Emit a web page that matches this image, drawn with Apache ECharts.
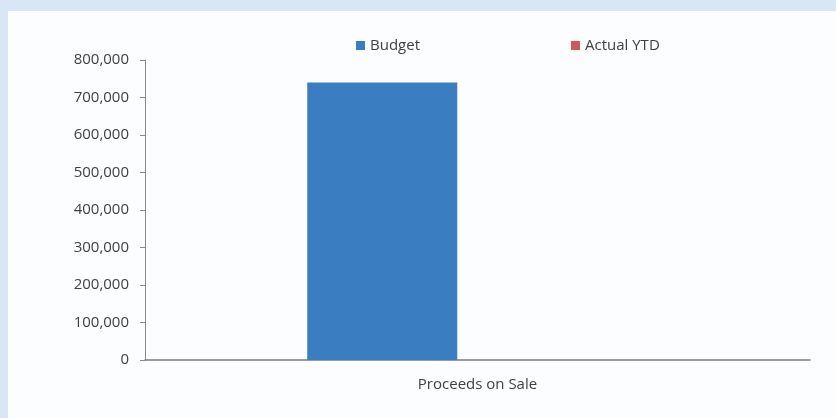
<!DOCTYPE html>
<html>
<head>
<meta charset="utf-8">
<script src="https://cdn.jsdelivr.net/npm/echarts@6/dist/echarts.min.js"></script>
<style>
html,body{margin:0;padding:0;background:#d8e6f5;}
#c{width:836px;height:418px;}
</style>
</head>
<body>
<div id="c"></div>
<script>
const categories = ['Proceeds on Sale'];
const budget = [740000];
const actualYTD = [0];
const yTicks = { min: 0, max: 800000, interval: 100000 };

const font = '"Open Sans", "Noto Sans", sans-serif';
const chart = echarts.init(document.getElementById('c'), null, {renderer: 'canvas'});
chart.setOption({
  backgroundColor: '#d8e6f5',
  animation: false,
  graphic: [{
    type: 'rect', z: -10, silent: true,
    shape: {x: 8, y: 11, width: 828, height: 407},
    style: {fill: '#fcfdff'}
  }],
  legend: [
    {data: ['Budget'], left: 351, top: 33, itemWidth: 9, itemHeight: 9, itemGap: 4,
     icon: 'rect', textStyle: {fontFamily: font, fontSize: 15, color: '#404040'}},
    {data: ['Actual YTD'], left: 566, top: 33, itemWidth: 9, itemHeight: 9, itemGap: 4,
     icon: 'rect', textStyle: {fontFamily: font, fontSize: 15, color: '#404040'}}
  ],
  grid: {left: 145, right: 26, top: 60, bottom: 58, containLabel: false},
  xAxis: {
    type: 'category', data: categories,
    axisLine: {lineStyle: {color: '#7a7a7a', width: 1.5}},
    axisTick: {show: false},
    axisLabel: {fontFamily: font, fontSize: 15, color: '#404040', margin: 17}
  },
  yAxis: {
    type: 'value', min: yTicks.min, max: yTicks.max, interval: yTicks.interval,
    axisLine: {show: true, lineStyle: {color: '#8a8a8a'}},
    axisTick: {show: true, inside: false, length: 5, lineStyle: {color: '#8a8a8a'}},
    splitLine: {show: false},
    axisLabel: {fontFamily: font, fontSize: 15, color: '#404040', margin: 16,
      formatter: v => v.toLocaleString('en-US')}
  },
  series: [
    {name: 'Budget', type: 'bar', data: budget, barWidth: 150, barGap: '27%',
     itemStyle: {color: '#3a7dc0'}},
    {name: 'Actual YTD', type: 'bar', data: actualYTD, barWidth: 150,
     itemStyle: {color: '#d2575c'}}
  ]
});
</script>
</body>
</html>
